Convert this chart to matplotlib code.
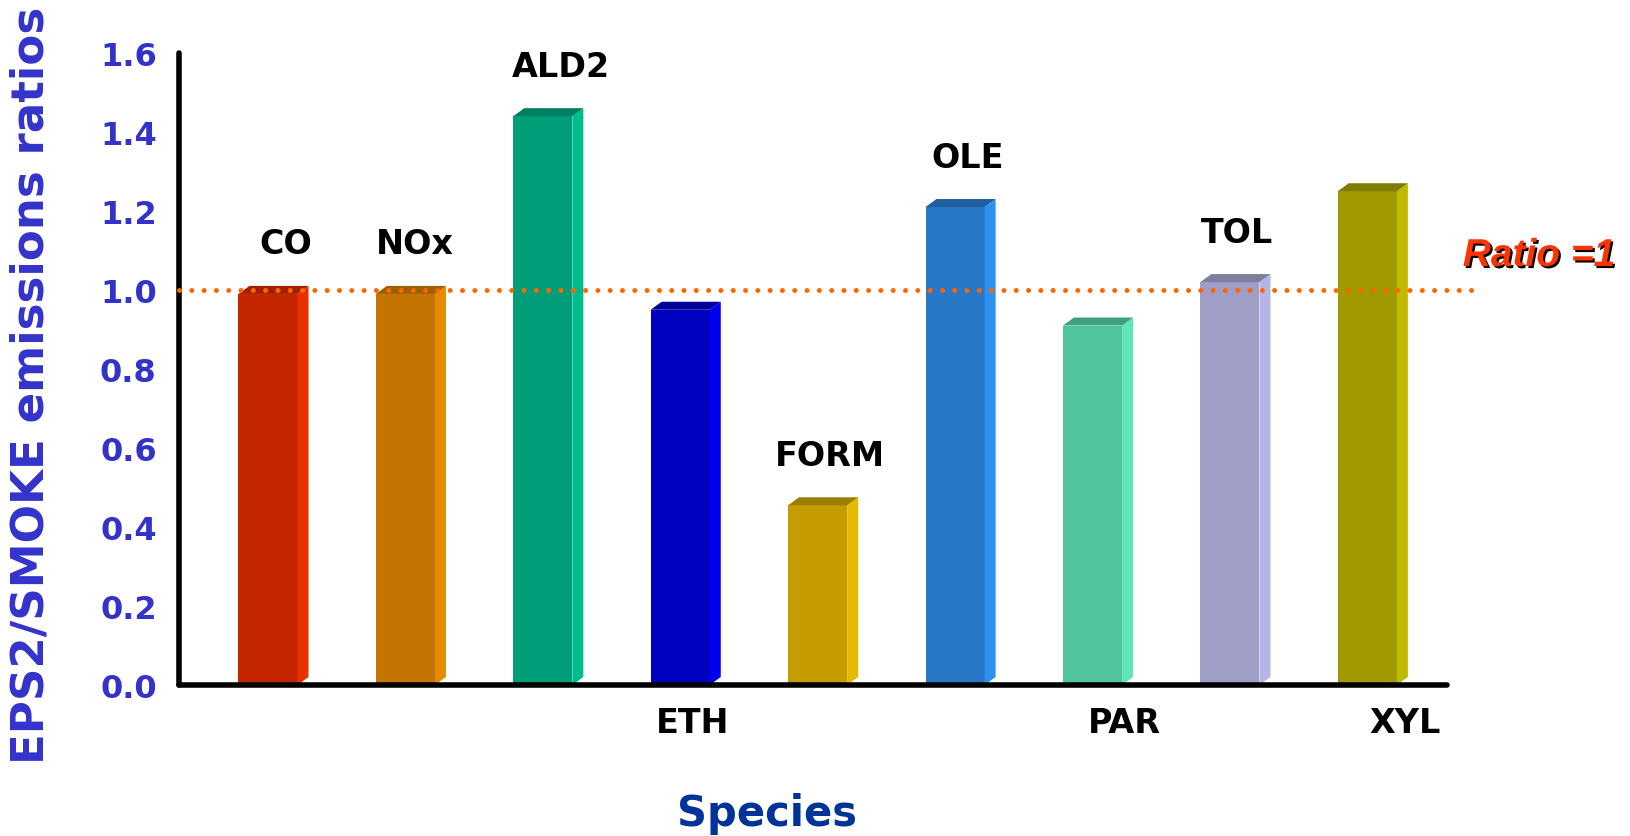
import matplotlib
matplotlib.use('Agg')
import matplotlib.pyplot as plt
from matplotlib.patches import Polygon
import matplotlib.patheffects as pe

# data
species = ['CO', 'NOx', 'ALD2', 'ETH', 'FORM', 'OLE', 'PAR', 'TOL', 'XYL']
ratios = [0.99, 0.99, 1.44, 0.95, 0.455, 1.21, 0.91, 1.02, 1.25]
yticks = [0.0, 0.2, 0.4, 0.6, 0.8, 1.0, 1.2, 1.4, 1.6]
ref_ratio = 1.0

# styling
front_colors = ['#C42600', '#C47400', '#009E78', '#0000C0', '#C49C00',
                '#2878C8', '#50C59C', '#9E9EC6', '#A09A00']
side_colors = ['#E83000', '#E68C00', '#00BC8A', '#0000F0', '#E6B800',
               '#3090F0', '#60E6B8', '#B6B6E6', '#C0BA00']
top_colors = ['#A02000', '#9C6000', '#007F60', '#00009A', '#9C7E00',
              '#205FA0', '#40A07E', '#7E7E9E', '#807C00']
label_below = [False, False, False, True, False, False, True, False, True]
label_dx = [13, 6.5, 13, 9, 9, 9, 23, 5, 27]

fig = plt.figure(figsize=(16.31, 8.37), dpi=100)
ax = fig.add_axes([0.1097, 0.1804, 0.7775, 0.7551])

w, dx, dy = 0.43, 0.08, 0.0203
x = list(range(len(species)))
bars = ax.bar(x, ratios, width=w, color=front_colors, zorder=2)
for b, sc, tc in zip(bars, side_colors, top_colors):
    x0 = b.get_x()
    x1 = x0 + b.get_width()
    h = b.get_height()
    ax.add_patch(Polygon([(x1, 0), (x1 + dx, dy), (x1 + dx, h + dy), (x1, h)],
                         closed=True, facecolor=sc, edgecolor='none', zorder=2))
    ax.add_patch(Polygon([(x0, h), (x1, h), (x1 + dx, h + dy), (x0 + dx, h + dy)],
                         closed=True, facecolor=tc, edgecolor='none', zorder=2))

# dotted ratio = 1 line
ax.axhline(ref_ratio, xmin=0, xmax=1.028, color='#FF6600', lw=3.6,
           dashes=(0.001, 2.46), dash_capstyle='round', clip_on=False, zorder=4)

for i, (name, h) in enumerate(zip(species, ratios)):
    if label_below[i]:
        ax.annotate(name, xy=(i, 0), xytext=(label_dx[i], -27), textcoords='offset points',
                    ha='center', va='center', fontsize=24, fontweight='bold',
                    color='black', annotation_clip=False)
    else:
        ax.annotate(name, xy=(i, h), xytext=(label_dx[i], 36), textcoords='offset points',
                    ha='center', va='center', fontsize=24, fontweight='bold',
                    color='black', annotation_clip=False)

ax.set_xlim(-0.648, 8.58)
ax.set_ylim(0, 1.6)
ax.set_xticks([])
ax.set_yticks(yticks)
ax.set_yticklabels(['%.1f' % t for t in yticks])
ax.tick_params(axis='y', length=0, pad=16, labelsize=23, labelcolor='#3333CC')
for lab in ax.get_yticklabels():
    lab.set_fontweight('bold')

for s in ['top', 'right']:
    ax.spines[s].set_visible(False)
for s in ['left', 'bottom']:
    ax.spines[s].set_linewidth(4)
    ax.spines[s].set_capstyle('round')
    ax.spines[s].set_zorder(3)

fig.text(31 / 1631, 0.54, 'EPS2/SMOKE emissions ratios', rotation=90,
         ha='center', va='center', fontsize=32.5, fontweight='bold', color='#3333CC')
fig.text(767 / 1631, 1 - 814 / 837, 'Species', ha='center', va='center',
         fontsize=30, fontweight='bold', color='#003399')
fig.text(1539 / 1631, 1 - 257 / 837, 'Ratio =1', ha='center', va='center',
         fontsize=28, fontweight='bold', fontstyle='italic', family='Liberation Sans',
         color='#FF3300',
         path_effects=[pe.withSimplePatchShadow(offset=(1.5, -1.5), shadow_rgbFace='black', alpha=1)])

fig.savefig('out.png', dpi=100)
